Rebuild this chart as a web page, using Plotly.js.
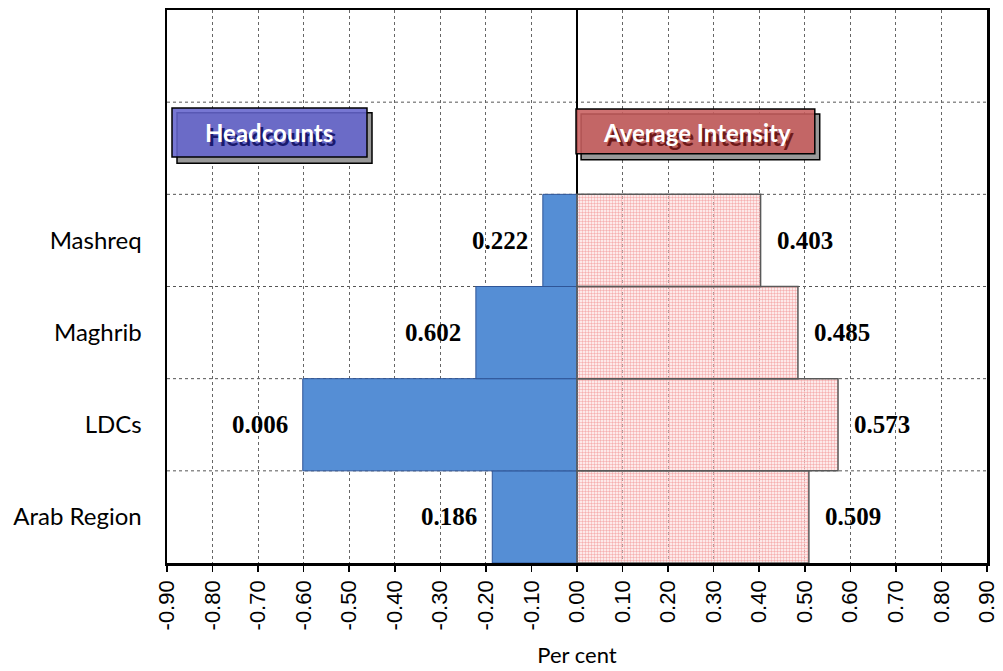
<!DOCTYPE html>
<html>
<head>
<meta charset="utf-8">
<script src="https://cdn.plot.ly/plotly-3.0.1.min.js"></script>
<style>html,body{margin:0;padding:0;background:#fff;}#chart{width:1003px;height:671px;}</style>
</head>
<body>
<div id="chart"></div>
<script>
// Data (bottom to top)
const categories = ["Arab Region", "LDCs", "Maghrib", "Mashreq"];
const headcounts = [-0.186, -0.602, -0.222, -0.075];
const intensity = [0.509, 0.573, 0.485, 0.403];
const headcountLabels = ["0.186", "0.006", "0.602", "0.222"];
const intensityLabels = ["0.509", "0.573", "0.485", "0.403"];
const xTicks = [-0.9,-0.8,-0.7,-0.6,-0.5,-0.4,-0.3,-0.2,-0.1,0,0.1,0.2,0.3,0.4,0.5,0.6,0.7,0.8,0.9];
const xTickText = xTicks.map(v => v.toFixed(2));
const yPos = categories.map((c, i) => i);

const traces = [
  {
    type: 'bar', orientation: 'h', x: headcounts, y: yPos, name: 'Headcounts',
    marker: {color: '#558ED5', line: {color: '#2F5597', width: 1}},
    hoverinfo: 'x+y'
  },
  {
    type: 'bar', orientation: 'h', x: intensity, y: yPos, name: 'Average Intensity',
    marker: {
      color: 'rgba(255,235,235,0.3)',
      line: {color: '#595959', width: 1.5},
      pattern: {shape: '.', fgcolor: '#f6b0b0', bgcolor: 'rgba(255,245,245,0.25)', size: 3, solidity: 0.5}
    },
    hoverinfo: 'x+y'
  }
];

const annotations = [];
const valFont = {family: 'Liberation Serif, Times New Roman, serif', size: 25, color: '#000'};
for (let i = 0; i < categories.length; i++) {
  annotations.push({x: headcounts[i], y: yPos[i], xref: 'x', yref: 'y', text: '<b>' + headcountLabels[i] + '</b>',
    showarrow: false, xanchor: 'right', yanchor: 'middle', xshift: -13, font: valFont});
  annotations.push({x: intensity[i], y: yPos[i], xref: 'x', yref: 'y', text: '<b>' + intensityLabels[i] + '</b>',
    showarrow: false, xanchor: 'left', yanchor: 'middle', xshift: 14, font: valFont});
}
// legend-style boxes text (with drop shadow)
function boxText(x, txt, shadowColor) {
  annotations.push({x: x, y: 0.778, xref: 'paper', yref: 'paper', text: '<b>' + txt + '</b>', showarrow: false,
    xanchor: 'center', yanchor: 'middle',
    font: {family: 'Lato, Noto Sans, sans-serif', size: 24, color: '#ffffff', shadow: '3px 4px 0px ' + shadowColor}});
}
boxText(0.124, 'Headcounts', '#1a1a6e');
boxText(0.646, 'Average Intensity', '#6e1a1a');

const shapes = [];
[0.5, 1.5, 2.5, 3.5, 4.5].forEach(v => shapes.push({type: 'line', xref: 'paper', yref: 'y', x0: 0, x1: 1, y0: v, y1: v,
  line: {color: '#555', width: 1, dash: 'dot'}, layer: 'below'}));
// Headcounts box
shapes.push({type: 'rect', xref: 'paper', yref: 'paper', x0: 0.0122, x1: 0.250, y0: 0.723, y1: 0.814,
  fillcolor: '#999999', line: {color: '#000', width: 1.5}, layer: 'above'});
shapes.push({type: 'rect', xref: 'paper', yref: 'paper', x0: 0.0061, x1: 0.2439, y0: 0.734, y1: 0.823,
  fillcolor: 'rgba(100,100,205,0.88)', line: {color: '#000', width: 1.5}, layer: 'above'});
// Average Intensity box
shapes.push({type: 'rect', xref: 'paper', yref: 'paper', x0: 0.505, x1: 0.796, y0: 0.729, y1: 0.812,
  fillcolor: '#999999', line: {color: '#000', width: 1.5}, layer: 'above'});
shapes.push({type: 'rect', xref: 'paper', yref: 'paper', x0: 0.4988, x1: 0.790, y0: 0.740, y1: 0.821,
  fillcolor: 'rgba(200,95,95,0.88)', line: {color: '#000', width: 1.5}, layer: 'above'});

const layout = {
  width: 1003, height: 671,
  margin: {l: 167, r: 16, t: 10, b: 108},
  paper_bgcolor: '#fff', plot_bgcolor: '#fff',
  showlegend: false,
  barmode: 'overlay', bargap: 0,
  xaxis: {
    range: [-0.9, 0.9], tickvals: xTicks, ticktext: xTickText, tickangle: -90,
    tickfont: {family: 'Liberation Sans, Arial, sans-serif', size: 22, color: '#000'},
    ticks: 'outside', ticklen: 6, tickcolor: '#000', tickwidth: 1.5,
    showgrid: true, gridcolor: '#666', griddash: 'dot', gridwidth: 1,
    zeroline: true, zerolinecolor: '#000', zerolinewidth: 1.5,
    showline: true, linecolor: '#000', linewidth: 2.5, mirror: true,
    title: {text: 'Per cent', font: {family: 'Lato, Noto Sans, sans-serif', size: 22, color: '#000'}, standoff: 18}
  },
  yaxis: {
    range: [-0.5, 5.5], tickvals: yPos, ticktext: categories,
    tickfont: {family: 'Lato, Noto Sans, sans-serif', size: 24, color: '#000'},
    ticks: '', ticklabelstandoff: 18,
    showgrid: false, zeroline: false,
    showline: true, linecolor: '#000', linewidth: 2.5, mirror: true
  },
  shapes: shapes,
  annotations: annotations
};

Plotly.newPlot('chart', traces, layout, {displayModeBar: false, staticPlot: true});
</script>
</body>
</html>
